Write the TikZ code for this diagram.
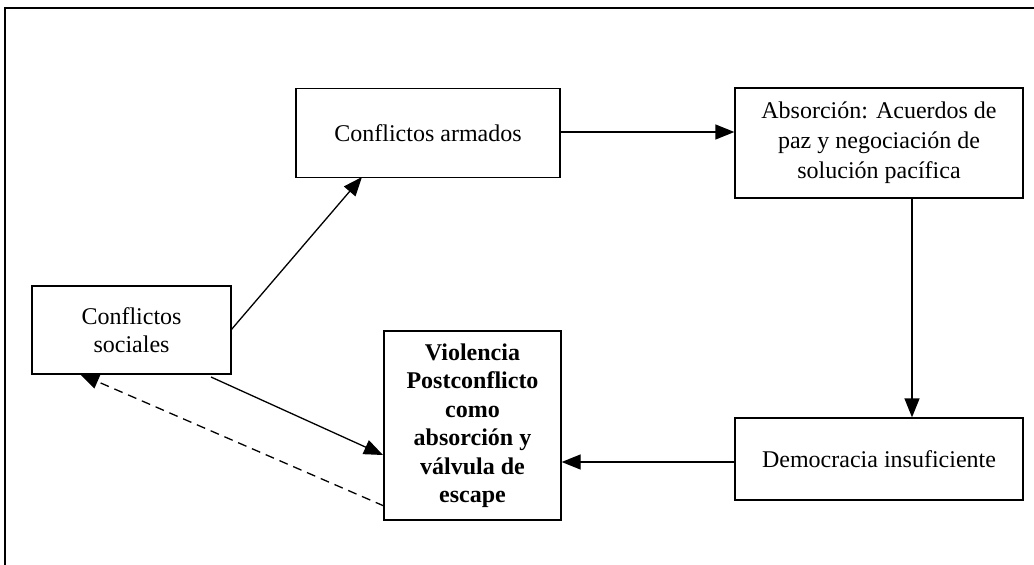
\documentclass[tikz,border=0pt]{standalone}
\usepackage{fontspec}
\setmainfont{Liberation Serif}
\usetikzlibrary{arrows.meta}
\tikzset{
  box/.style={draw=black, line width=1.3pt, align=center, inner sep=0pt,
    font=\fontsize{24}{29}\selectfont},
  conn/.style={line width=1.3pt, -{Triangle[length=19pt,width=15pt]}},
}
\begin{document}
\begin{tikzpicture}[x=1pt,y=-1pt]
\useasboundingbox (0,0) rectangle (1034,565);
\draw[line width=1.3pt] (5,565) -- (5,8) -- (1034,8);
\node[box, minimum width=264pt, minimum height=89pt] (armados) at (428,133) {Conflictos armados};
\node[box, minimum width=288pt, minimum height=110pt, font=\fontsize{24}{30}\selectfont] (absorcion) at (879,143) {Absorción: Acuerdos de\\paz y negociación de\\solución pacífica};
\node[box, minimum width=199pt, minimum height=88pt, font=\fontsize{24}{28}\selectfont] (sociales) at (131.5,330) {Conflictos\\sociales};
\node[box, minimum width=177pt, minimum height=189pt, font=\fontsize{24}{28.5}\selectfont\bfseries] (violencia) at (472.5,425.5) {Violencia\\Postconflicto\\como\\absorción y\\válvula de\\escape};
\node[box, minimum width=288pt, minimum height=82pt] (democracia) at (879,459) {Democracia insuficiente};
\draw[conn] (armados.east |- 0,132) -- (absorcion.west |- 0,132);
\draw[conn] (absorcion.south -| 912,0) -- (democracia.north -| 912,0);
\draw[conn] (democracia.west |- 0,462) -- (violencia.east |- 0,462);
\coordinate (s1) at (231,330);
\coordinate (a1) at (362,177);
\draw[conn] (s1) -- (a1);
\coordinate (s2) at (211,377);
\coordinate (v1) at (383,455);
\draw[conn] (s2) -- (v1);
\coordinate (v2) at (384,506);
\coordinate (s3) at (80,374);
\draw[conn, dashed, dash pattern=on 9pt off 6pt] (v2) -- (s3);
\end{tikzpicture}
\end{document}
